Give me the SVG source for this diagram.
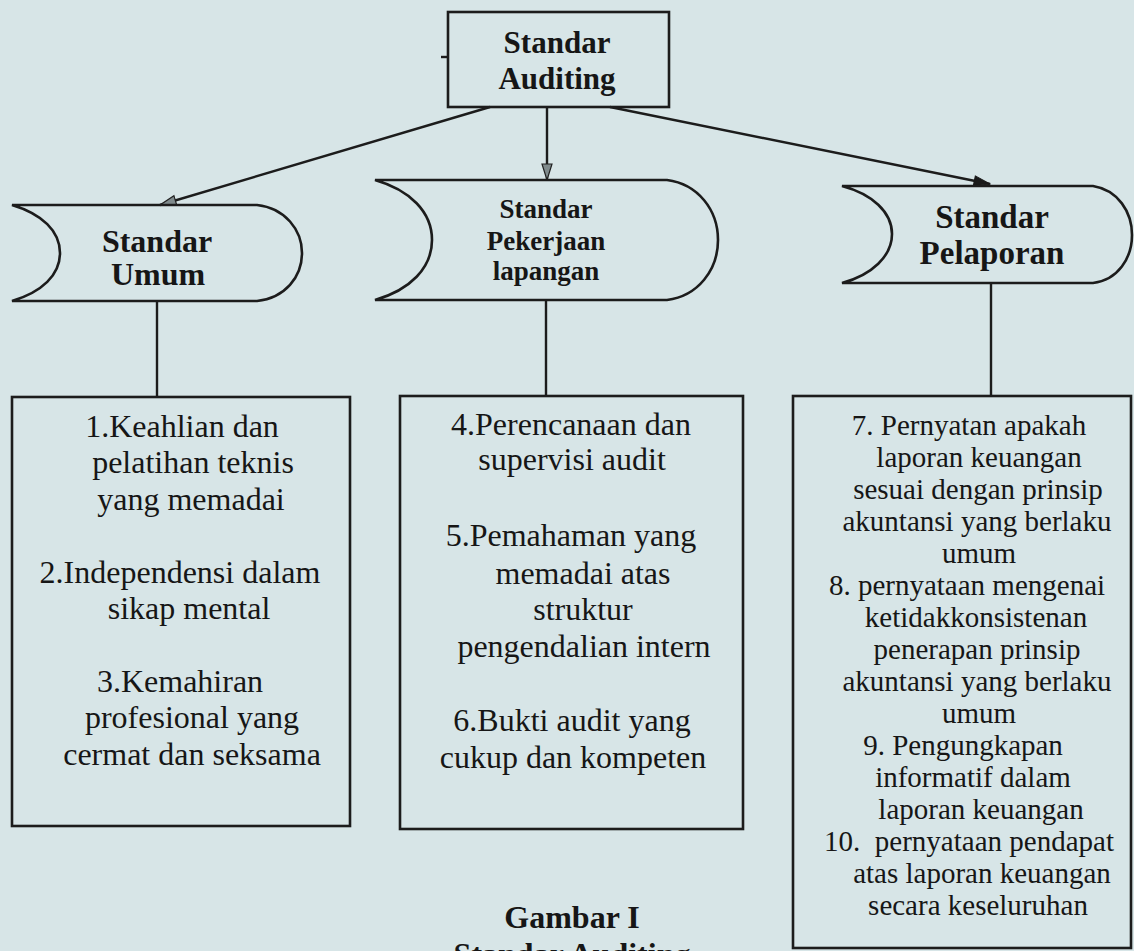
<svg xmlns="http://www.w3.org/2000/svg" width="1134" height="951" viewBox="0 0 1134 951">
<style>
.bg{fill:#d7e5e7}
.shape{fill:none;stroke:#1c1c1c;stroke-width:2.6}
.conn{stroke:#1c1c1c;stroke-width:2.4;fill:none}
.hd{font-family:"Liberation Serif","Times New Roman",serif;font-weight:bold;fill:#161616;text-anchor:middle}
.tx{font-family:"Liberation Serif","Times New Roman",serif;font-size:32px;fill:#161616;text-anchor:middle}
.tx3{font-family:"Liberation Serif","Times New Roman",serif;font-size:29px;fill:#161616;text-anchor:middle}
</style>
<defs>
<marker id="ahGray" markerWidth="18" markerHeight="12" refX="17" refY="6" orient="auto" markerUnits="userSpaceOnUse">
<path d="M1,1 L17,6 L1,11 Z" fill="#7f8a8c" stroke="#222" stroke-width="1.2"/>
</marker>
<marker id="ahBlack" markerWidth="18" markerHeight="12" refX="17" refY="6" orient="auto" markerUnits="userSpaceOnUse">
<path d="M1,1 L17,6 L1,11 Z" fill="#1a1a1a" stroke="#1a1a1a" stroke-width="1"/>
</marker>
</defs>
<rect class="bg" x="0" y="0" width="1134" height="951"/>

<g id="connectors">
<line class="conn" x1="490" y1="107" x2="160" y2="205" marker-end="url(#ahGray)"/>
<line class="conn" x1="547" y1="107" x2="547" y2="180" marker-end="url(#ahGray)"/>
<line class="conn" x1="610" y1="107" x2="990" y2="184" marker-end="url(#ahBlack)"/>
<line class="conn" x1="157" y1="301" x2="157" y2="397"/>
<line class="conn" x1="546" y1="300" x2="546" y2="396"/>
<line class="conn" x1="991" y1="283" x2="991" y2="396"/>
<line class="conn" x1="441" y1="57" x2="448" y2="57"/>
</g>

<g id="node-standar-auditing">
<rect class="shape" x="448" y="12" width="221" height="95"/>
<text class="hd" font-size="31" x="557" y="53">Standar</text>
<text class="hd" font-size="31" x="557" y="89">Auditing</text>
</g>

<g id="node-standar-umum">
<path class="shape" d="M12,205 L257,205 C285,208 302,230 302,253 C302,277 285,298 257,301 L12,301 C42,292 60,275 60,253 C60,231 42,214 12,205 Z"/>
<text class="hd" font-size="32" x="157" y="252">Standar</text>
<text class="hd" font-size="32" x="158" y="285">Umum</text>
</g>

<g id="node-standar-pekerjaan">
<path class="shape" d="M375,180 L667,180 C698,184 718,210 718,240 C718,270 698,296 667,300 L375,300 C410,290 432,268 432,240 C432,212 410,190 375,180 Z"/>
<text class="hd" font-size="27" x="546" y="218">Standar</text>
<text class="hd" font-size="27" x="546" y="250">Pekerjaan</text>
<text class="hd" font-size="27" x="546" y="280">lapangan</text>
</g>

<g id="node-standar-pelaporan">
<path class="shape" d="M842,186 L1093,186 C1118,190 1132,212 1132,235 C1132,258 1118,280 1093,283 L842,283 C872,275 892,256 892,234 C892,212 872,194 842,186 Z"/>
<text class="hd" font-size="33" x="992" y="228">Standar</text>
<text class="hd" font-size="33" x="992" y="264">Pelaporan</text>
</g>

<g id="node-umum-list">
<rect class="shape" x="12" y="397" width="338" height="429"/>
<text class="tx" x="182" y="437">1.Keahlian dan</text>
<text class="tx" x="193" y="473">pelatihan teknis</text>
<text class="tx" x="191" y="510">yang memadai</text>
<text class="tx" x="180" y="583">2.Independensi dalam</text>
<text class="tx" x="189" y="619">sikap mental</text>
<text class="tx" x="180" y="692">3.Kemahiran</text>
<text class="tx" x="192" y="728">profesional yang</text>
<text class="tx" x="192" y="765">cermat dan seksama</text>
</g>

<g id="node-pekerjaan-list">
<rect class="shape" x="400" y="396" width="343" height="433"/>
<text class="tx" x="571" y="435">4.Perencanaan dan</text>
<text class="tx" x="572" y="470">supervisi audit</text>
<text class="tx" x="571" y="546">5.Pemahaman yang</text>
<text class="tx" x="583" y="584">memadai atas</text>
<text class="tx" x="583" y="620">struktur</text>
<text class="tx" x="584" y="657">pengendalian intern</text>
<text class="tx" x="572" y="731">6.Bukti audit yang</text>
<text class="tx" x="573" y="768">cukup dan kompeten</text>
</g>

<g id="node-pelaporan-list">
<rect class="shape" x="793" y="396" width="338" height="552"/>
<text class="tx3" x="969" y="435">7. Pernyatan apakah</text>
<text class="tx3" x="979" y="467">laporan keuangan</text>
<text class="tx3" x="978" y="499">sesuai dengan prinsip</text>
<text class="tx3" x="977" y="531">akuntansi yang berlaku</text>
<text class="tx3" x="979" y="563">umum</text>
<text class="tx3" x="967" y="595">8. pernyataan mengenai</text>
<text class="tx3" x="976" y="627">ketidakkonsistenan</text>
<text class="tx3" x="977" y="659">penerapan prinsip</text>
<text class="tx3" x="977" y="691">akuntansi yang berlaku</text>
<text class="tx3" x="979" y="723">umum</text>
<text class="tx3" x="963" y="755">9. Pengungkapan</text>
<text class="tx3" x="973" y="787">informatif dalam</text>
<text class="tx3" x="981" y="819">laporan keuangan</text>
<text class="tx3" x="969" y="851" xml:space="preserve">10.  pernyataan pendapat</text>
<text class="tx3" x="982" y="883">atas laporan keuangan</text>
<text class="tx3" x="978" y="915">secara keseluruhan</text>
</g>

<g id="caption">
<text class="hd" font-size="32" x="572" y="928">Gambar I</text>
<text class="hd" font-size="32" x="572" y="965">Standar Auditing</text>
</g>
</svg>
